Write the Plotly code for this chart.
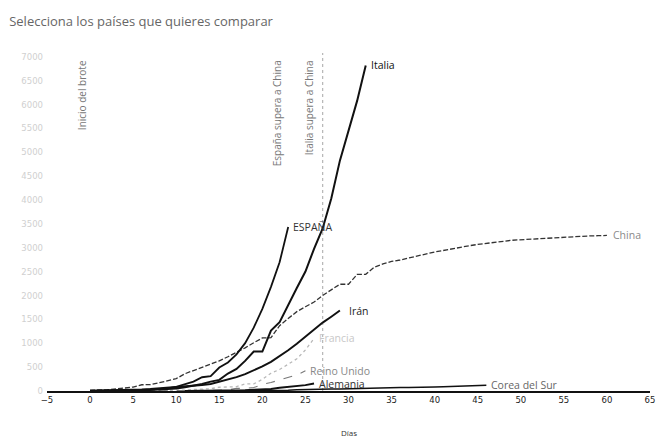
import plotly.graph_objects as go

# ---- data (deaths by day since outbreak start) ----
italia_days = list(range(0, 33))
italia_vals = [1, 2, 3, 7, 10, 12, 17, 21, 29, 34, 52, 79, 107, 148, 197, 233, 366, 463,
               631, 827, 827, 1266, 1441, 1809, 2158, 2503, 2978, 3405, 4032, 4825, 5476, 6077, 6820]

espana_days = list(range(0, 24))
espana_vals = [1, 1, 2, 3, 5, 10, 17, 28, 36, 55, 86, 136, 196, 288, 309, 491, 598, 767,
               1002, 1326, 1720, 2182, 2696, 3434]

china_days = list(range(0, 61))
china_vals = [17, 18, 26, 42, 56, 82, 131, 133, 171, 213, 259, 361, 425, 490, 562, 632, 717,
              804, 904, 1011, 1111, 1116, 1368, 1520, 1662, 1765, 1863, 2002, 2114, 2236, 2236,
              2441, 2443, 2593, 2663, 2715, 2744, 2788, 2835, 2870, 2912, 2943, 2981, 3012, 3042,
              3070, 3097, 3119, 3136, 3158, 3169, 3176, 3189, 3199, 3213, 3226, 3237, 3245, 3249,
              3253, 3259]

iran_days = list(range(0, 30))
iran_vals = [5, 8, 12, 16, 19, 26, 34, 43, 54, 66, 77, 92, 107, 124, 145, 194, 237, 291, 354,
             429, 514, 611, 724, 853, 988, 1135, 1284, 1433, 1556, 1685]

francia_days = list(range(3, 27))
francia_vals = [2, 3, 4, 4, 6, 9, 11, 19, 19, 33, 48, 48, 79, 91, 91, 148, 148, 243, 372, 450,
                562, 674, 860, 1100]

reino_days = list(range(8, 26))
reino_vals = [2, 3, 4, 6, 8, 8, 8, 21, 21, 56, 56, 72, 138, 178, 234, 282, 336, 423]

alemania_days = list(range(11, 27))
alemania_vals = [2, 2, 3, 3, 7, 9, 11, 17, 24, 28, 44, 67, 84, 94, 123, 157]

corea_days = list(range(13, 47))
corea_vals = [1, 2, 2, 6, 8, 10, 12, 13, 13, 16, 17, 28, 28, 35, 35, 42, 44, 50, 53, 54, 60,
              66, 66, 72, 75, 75, 81, 84, 91, 94, 102, 104, 111, 120]

x_ticks = list(range(-5, 70, 5))
y_ticks = list(range(0, 7500, 500))

event_labels = ["Inicio del brote", "España supera a China", "Italia supera a China"]
event_days = [0, 23, 27]

# ---- styles ----
series = [
    ("China", china_days, china_vals, dict(color="#333333", width=1.3, dash="5px,2px"), "China", "#8a8a8a", 5, 10.5),
    ("Francia", francia_days, francia_vals, dict(color="#b8b8b8", width=1.3, dash="dot"), "Francia", "#c8c8c8", 4, 10.5),
    ("Reino Unido", reino_days, reino_vals, dict(color="#777777", width=1.1, dash="dash"), "Reino Unido", "#888888", 4, 10.5),
    ("Corea del Sur", corea_days, corea_vals, dict(color="#111111", width=1.5), "Corea del Sur", "#666666", 4, 10.5),
    ("Alemania", alemania_days, alemania_vals, dict(color="#111111", width=2), "Alemania", "#333333", 4, 10.5),
    ("Irán", iran_days, iran_vals, dict(color="#111111", width=2), "Irán", "#222222", 8, 10.5),
    ("ESPAÑA", espana_days, espana_vals, dict(color="#111111", width=1.8), "ESPAÑA", "#333333", 4, 10.5),
    ("Italia", italia_days, italia_vals, dict(color="#111111", width=2), "Italia", "#111111", 4, 10.5),
]

fig = go.Figure()
annotations = []
for name, xs, ys, line, label, lcol, xsh, fs in series:
    fig.add_trace(go.Scatter(x=xs, y=ys, mode="lines", name=name, line=line,
                             hoverinfo="skip", showlegend=False))
    annotations.append(dict(x=xs[-1], y=ys[-1], xref="x", yref="y", text=label,
                            showarrow=False, xanchor="left", yanchor="middle", xshift=xsh,
                            borderpad=0,
                            font=dict(family="Open Sans", size=fs, color=lcol)))

ev_shifts = [-8, -11, -14]
for lab, d, sh in zip(event_labels, event_days, ev_shifts):
    annotations.append(dict(x=d, y=0.985, xref="x", yref="paper", text=lab, showarrow=False,
                            textangle=-90, xanchor="center", yanchor="top", xshift=sh,
                            font=dict(family="Open Sans", size=10, color="#777777")))

# dotted marker line for Italia event
fig.add_shape(type="line", x0=event_days[2], x1=event_days[2], xref="x", y0=0, y1=1, yref="paper",
              line=dict(color="#b5b5b5", width=1.2, dash="dot"), layer="below")

annotations.append(dict(x=0.5, y=0, xref="paper", yref="paper", text="Días", showarrow=False,
                        yshift=-41, xanchor="center", yanchor="middle", borderpad=0,
                        font=dict(family="Open Sans", size=8, color="#333333")))

fig.update_layout(
    width=656, height=439,
    margin=dict(l=47, r=1, t=53, b=48),
    paper_bgcolor="white", plot_bgcolor="white",
    title=dict(text="Selecciona los países que quieres comparar", x=0.014, xanchor="left",
               y=0.952, yanchor="middle", font=dict(family="Open Sans", size=13, color="#666666")),
    xaxis=dict(range=[-5, 65], tickvals=x_ticks, showgrid=False, zeroline=False,
               showline=True, linecolor="#111111", linewidth=2, ticks="",
               ticklabeloverflow="allow",
               tickfont=dict(family="DejaVu Sans", size=8.5, color="#222222")),
    yaxis=dict(range=[0, 7080], tickvals=y_ticks, showgrid=False, zeroline=False,
               showline=False, ticks="", ticklabelstandoff=3,
               tickfont=dict(family="DejaVu Sans", size=8.5, color="#d0d0d0")),
    annotations=annotations,
    font=dict(family="Open Sans"),
)

fig.write_html("out.html", config={"displayModeBar": False},
               post_script="document.body.style.margin='0px';document.body.style.overflow='hidden';")
